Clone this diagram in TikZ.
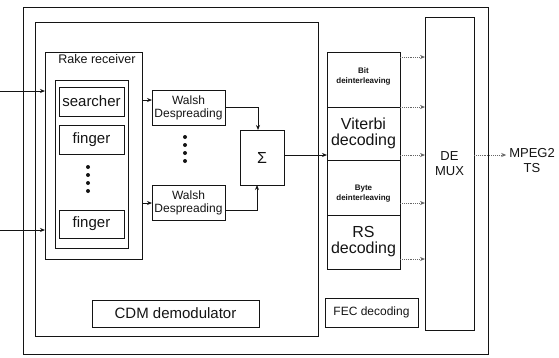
\documentclass[tikz,border=0pt]{standalone}
\usepackage{fontspec}
\setmainfont{Liberation Sans}
\usetikzlibrary{arrows.meta,calc}
\definecolor{ink}{HTML}{141414}
\newcommand{\fs}[1]{\fontsize{#1}{#1}\selectfont}
\tikzset{
  box/.style={draw=ink, line width=1pt, rectangle, inner sep=0pt, outer sep=0pt, align=center, text=ink},
  lbl/.style={inner sep=0pt, outer sep=0pt, align=center, text=ink},
  arr/.style={draw=ink, line width=0.9pt, -{Stealth[length=5pt,width=4pt]}},
  darr/.style={draw=ink!65, line width=0.9pt, densely dotted, -{Stealth[length=5pt,width=4pt]}},
}
\begin{document}
\begin{tikzpicture}[x=1pt,y=-1pt]
\useasboundingbox (0,0) rectangle (559,357);
% containers
\node[box, minimum width=465pt, minimum height=347pt] (outer) at (255.5,180.5) {};
\node[box, minimum width=283pt, minimum height=314pt] (cdm) at (176.5,179) {};
\node[box, minimum width=97pt, minimum height=207pt] (rake) at (93.5,155.5) {};
\node[lbl, font=\fs{12.5}, anchor=north] (raketitle) at (97,54) {Rake receiver};
\node[box, minimum width=73pt, minimum height=168pt] (fgroup) at (91.5,164) {};
\node[box, minimum width=65pt, minimum height=29pt, font=\fs{15}] (searcher) at (91.5,101.5) {searcher};
\node[box, minimum width=65pt, minimum height=29pt, font=\fs{15}] (finger1) at (91.5,139.5) {finger};
\node[box, minimum width=65pt, minimum height=28pt, font=\fs{15}] (finger2) at (91.5,224) {finger};
\foreach \y in {167,175,183,191} \fill[ink] (88,\y) circle (2pt);
% Walsh
\node[box, minimum width=73pt, minimum height=35pt, font=\fs{12}] (walsh1) at (188.5,107.5) {Walsh\\[1pt]Despreading};
\node[box, minimum width=73pt, minimum height=35pt, font=\fs{12}] (walsh2) at (188.5,202.5) {Walsh\\[1pt]Despreading};
\foreach \y in {137,145,153,161} \fill[ink] (185,\y) circle (2pt);
\node[box, minimum width=44pt, minimum height=55pt, font=\fs{16}] (sigma) at (262,157.5) {Σ};
\node[box, minimum width=167pt, minimum height=27pt, font=\fs{15}] (cdmlabel) at (175.5,313.5) {CDM demodulator};
% FEC stack
\node[box, minimum width=73pt, minimum height=55pt] (bit) at (363.5,79.5) {};
\node[lbl, font=\fs{8}\bfseries] (bittext) at (363.5,76) {Bit\\[2pt]deinterleaving};
\node[box, minimum width=73pt, minimum height=53pt, font=\fs{16}] (vit) at (363.5,133.5) {Viterbi\\decoding};
\node[box, minimum width=73pt, minimum height=55pt] (byte) at (363.5,187.5) {};
\node[lbl, font=\fs{8}\bfseries] (bytetext) at (363.5,194) {Byte\\[2pt]deinterleaving};
\node[box, minimum width=73pt, minimum height=54pt, font=\fs{16}] (rs) at (363.5,242) {RS\\decoding};
\node[box, minimum width=93pt, minimum height=29pt, font=\fs{12}] (feclabel) at (371.5,312.5) {FEC decoding};
% DEMUX
\node[box, minimum width=49pt, minimum height=313pt] (demux) at (449.5,173.5) {};
\node[lbl, font=\fs{13}] (demuxtext) at (449.5,164) {DE\\[2pt]MUX};
\node[lbl, font=\fs{13}] (mpeg) at (532,161) {MPEG2\\[2pt]TS};
% inputs
\coordinate (in1) at (0,91);
\coordinate (in2) at (0,230);
\draw[arr] (in1) -- (in1 -| rake.west);
\draw[arr] (in2) -- (in2 -| rake.west);
% rake -> walsh
\draw[arr] (rake.east |- 0,100) -- (walsh1.west |- 0,100);
\draw[arr] (rake.east |- 0,203) -- (walsh2.west |- 0,203);
% walsh -> sigma
\draw[arr] (walsh1.east |- 0,107) -| ($(sigma.north)+(-4,0)$);
\draw[arr] (walsh2.east |- 0,210) -| ($(sigma.south)+(-5,0)$);
% sigma -> viterbi
\draw[arr] (sigma.east |- 0,155) -- (vit.west |- 0,155);
% FEC -> demux
\draw[darr] (bit.east |- 0,57) -- (demux.west |- 0,57);
\draw[darr] (bit.east |- 0,107) -- (demux.west |- 0,107);
\draw[darr] (vit.east |- 0,155) -- (demux.west |- 0,155);
\draw[darr] (byte.east |- 0,203) -- (demux.west |- 0,203);
\draw[darr] (rs.east |- 0,259) -- (demux.west |- 0,259);
% output
\draw[darr] (demux.east |- 0,155) -- ($(mpeg.west |- 0,155)+(-3,0)$);
\end{tikzpicture}
\end{document}
